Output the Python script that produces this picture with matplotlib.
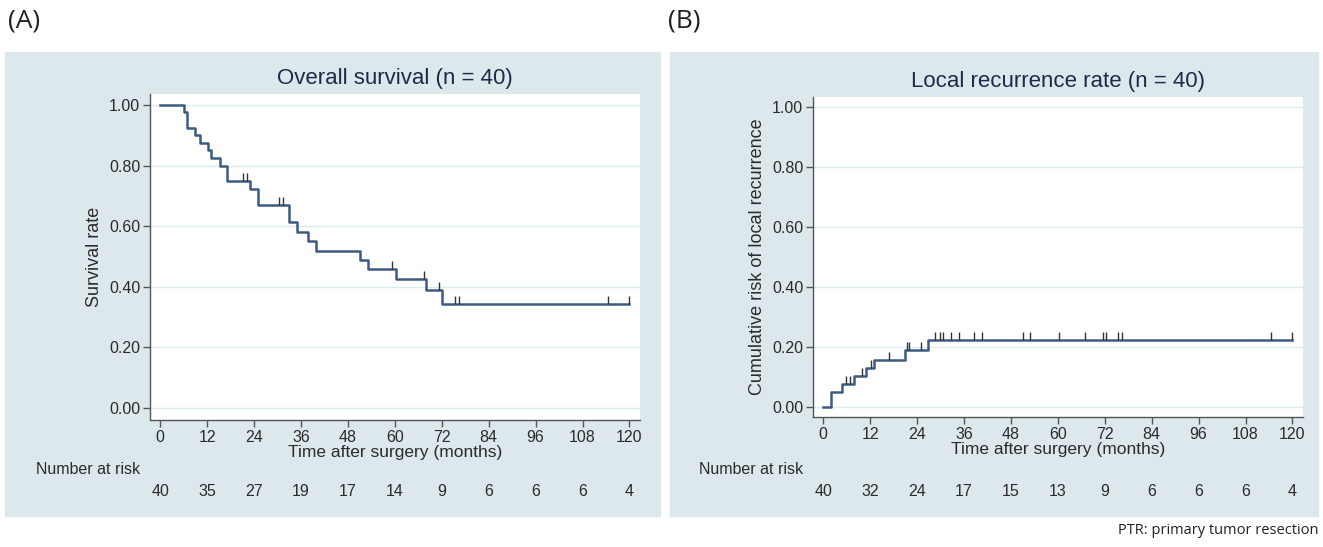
import matplotlib
matplotlib.use("Agg")
import matplotlib.pyplot as plt
from matplotlib.patches import Rectangle
import numpy as np

plt.rcParams['font.family'] = ['Liberation Sans', 'DejaVu Sans']

# (A) overall survival, Kaplan-Meier steps
os_times = [0, 6.1, 6.8, 9.0, 10.1, 12.2, 13.1, 15.2, 17.2, 23.0, 25.0, 33.0,
            35.0, 37.9, 39.9, 51.1, 53.2, 60.2, 68.1, 72.1, 120]
os_surv = [1.0, 0.975, 0.925, 0.90, 0.875, 0.85, 0.825, 0.80, 0.75, 0.723, 0.670,
           0.612, 0.580, 0.550, 0.519, 0.488, 0.458, 0.426, 0.389, 0.343, 0.343]
os_censor = [21.3, 22.3, 30.4, 31.4, 59.4, 67.4, 71.4, 75.5, 76.3, 114.4, 120]
os_at_risk = [40, 35, 27, 19, 17, 14, 9, 6, 6, 6, 4]

# (B) cumulative risk of local recurrence
lr_times = [0, 1.95, 4.9, 7.8, 11.0, 12.9, 21.0, 26.8, 120]
lr_risk = [0, 0.05, 0.075, 0.102, 0.128, 0.157, 0.189, 0.223, 0.223]
lr_censor = [5.9, 6.8, 10.0, 12.2, 16.8, 21.4, 22.0, 25.0, 28.5, 29.8, 30.6, 32.8,
             34.8, 38.6, 40.6, 51.0, 52.8, 60.2, 67.0, 71.5, 72.2, 75.5, 76.3,
             114.4, 120]
lr_at_risk = [40, 32, 24, 17, 15, 13, 9, 6, 6, 6, 4]

x_ticks = list(range(0, 121, 12))
y_ticks = [0.0, 0.2, 0.4, 0.6, 0.8, 1.0]

BG = '#dce8ec'
LINE = '#3d5a82'
DARK = '#2b2b2b'
FS = 11.5

W, H = 1323, 547
fig = plt.figure(figsize=(W / 100, H / 100), dpi=100)


def px_rect(x0, y0, x1, y1):
    # pixel box (top-left origin) -> figure fraction [l, b, w, h]
    return [x0 / W, 1 - y1 / H, (x1 - x0) / W, (y1 - y0) / H]


def step_value(times, vals, t):
    i = np.searchsorted(times, t, side='right') - 1
    return vals[i]


def km_panel(box, times, vals, censor, at_risk, title, ylabel, ylim):
    ax = fig.add_axes(px_rect(*box))
    ax.set_zorder(2)
    ax.set_facecolor('white')
    for y in y_ticks:
        ax.axhline(y, color='#dcebf0', lw=1.0, zorder=0)
    ax.step(times, vals, where='post', color=LINE, lw=1.8, zorder=3)
    cy = [step_value(times, vals, t) for t in censor]
    ax.plot(censor, cy, linestyle='none', marker=2, markersize=6,
            markeredgewidth=1.0, color='#333333', zorder=4)

    ax.set_xlim(-2.6, 122.7)
    ax.set_ylim(*ylim)
    ax.set_xticks(x_ticks)
    ax.set_yticks(y_ticks)
    ax.set_yticklabels(['%.2f' % v for v in y_ticks])
    for s in ['top', 'right']:
        ax.spines[s].set_visible(False)
    for s in ['left', 'bottom']:
        ax.spines[s].set_color('#555555')
        ax.spines[s].set_linewidth(1.0)
    ax.tick_params(axis='both', colors='#555555', labelcolor=DARK,
                   labelsize=FS, length=5, width=1.0, pad=2)
    ax.set_xlabel('Time after surgery (months)', fontsize=12.5, color=DARK,
                  labelpad=0)
    ax.set_ylabel(ylabel, fontsize=13, color=DARK, labelpad=4)
    ax.set_title(title, fontsize=16, color='#1f2a4a', pad=7)

    # number-at-risk rows, placed by pixel row below the axes
    top, bottom = box[1], box[3]
    hgt = bottom - top
    tr = ax.get_xaxis_transform()
    for t, n in zip(x_ticks, at_risk):
        ax.text(t, -(492 - bottom) / hgt, str(n), transform=tr, ha='center',
                va='center', fontsize=FS, color=DARK)
    ax.text(-5.0, -(470 - bottom) / hgt, 'Number at risk', transform=tr,
            ha='right', va='center', fontsize=FS, color=DARK)
    return ax


# panel backgrounds
for x0, x1 in [(5, 660), (670, 1318)]:
    fig.patches.append(Rectangle((x0 / W, 1 - 516 / H), (x1 - x0) / W, 464 / H,
                                 transform=fig.transFigure, color=BG,
                                 zorder=-5))

km_panel((150, 94, 640, 420), os_times, os_surv, os_censor, os_at_risk,
         'Overall survival (n = 40)', 'Survival rate', (-0.040, 1.036))
km_panel((813, 97, 1303, 417), lr_times, lr_risk, lr_censor, lr_at_risk,
         'Local recurrence rate (n = 40)', 'Cumulative risk of local recurrence',
         (-0.034, 1.033))

fig.text(8 / W, 1 - 21 / H, '(A)', fontsize=19, family='Open Sans',
         ha='left', va='center', color='#222222')
fig.text(668 / W, 1 - 21 / H, '(B)', fontsize=19, family='Open Sans',
         ha='left', va='center', color='#222222')
fig.text(1318 / W, 1 - 531 / H, 'PTR: primary tumor resection', fontsize=10.5,
         family='Open Sans', ha='right', va='center', color='#222222')

fig.savefig('out.png', dpi=100, facecolor='white')
